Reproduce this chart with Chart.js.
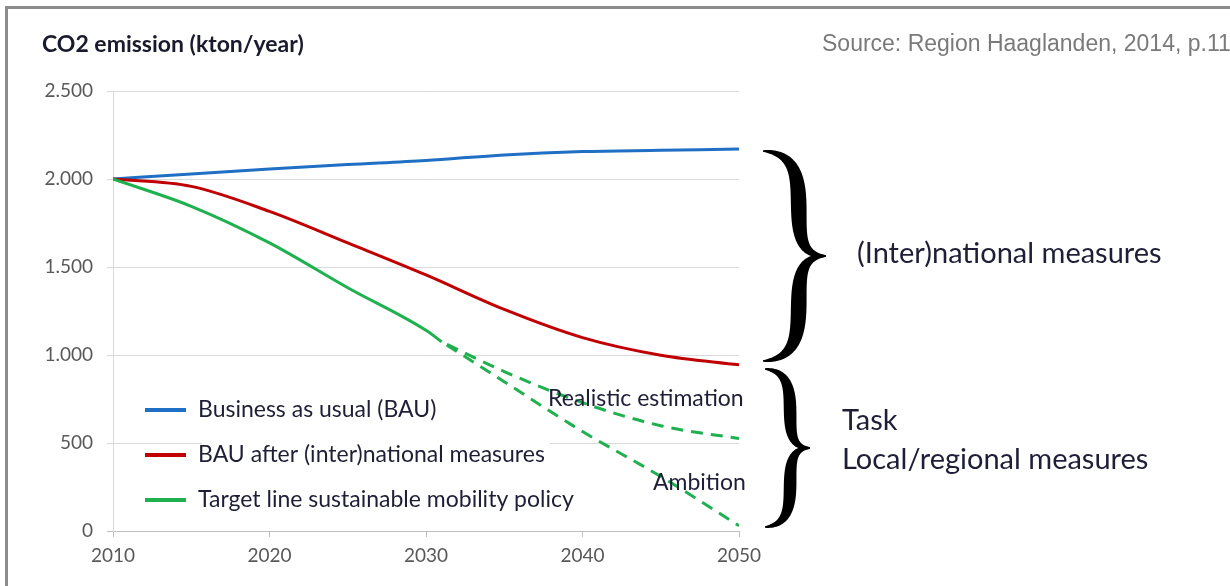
<!DOCTYPE html>
<html>
<head>
<meta charset="utf-8">
<script src="https://cdn.jsdelivr.net/npm/chart.js@4.4.1/dist/chart.umd.min.js"></script>
<style>
  html, body { margin: 0; padding: 0; background: #ffffff; }
  canvas { display: block; }
</style>
</head>
<body>
<canvas id="chart" width="1230" height="586"></canvas>
<script>
// Emission series (kton CO2 per year)
const years = [2010, 2015, 2020, 2025, 2030, 2035, 2040, 2045, 2050];
const businessAsUsual = [2000, 2028, 2057, 2082, 2105, 2137, 2156, 2163, 2170];
const bauAfterMeasures = [2000, 1958, 1816, 1637, 1455, 1259, 1099, 999, 944];

const targetYears = [2010, 2015, 2020, 2025, 2030, 2031];
const targetLine = [2000, 1845, 1637, 1382, 1140, 1075];

const scenarioYears = [2031, 2035, 2040, 2045, 2050];
const realisticEstimation = [1075, 906, 729, 598, 525];
const ambition = [1075, 848, 565, 310, 30];

const xTickValues = [2010, 2020, 2030, 2040, 2050];
const yTickValues = [0, 500, 1000, 1500, 2000, 2500];

const legendLabels = [
  'Business as usual (BAU)',
  'BAU after (inter)national measures',
  'Target line sustainable mobility policy'
];

const BLUE = '#1f6fc4';
const RED = '#c00000';
const GREEN = '#1fb04f';
const TEXT = '#1e1e38';
const SANS = 'Lato, "Open Sans", sans-serif';

const pts = (xs, ys) => xs.map((x, i) => ({ x: x, y: ys[i] }));

function thousands(v) {
  if (v < 1000) return String(v);
  const rest = String(v % 1000).padStart(3, '0');
  return Math.floor(v / 1000) + '.' + rest;
}

// Calligraphic curly brace: two S-shaped halves with a tapering stroke
function drawBrace(ctx, xl, top, bot, xTip, xBody, maxW) {
  const mid = (top + bot) / 2;
  const halves = [
    [[xl, top], [xBody + (xBody - xl) * 0.95, top + 4], [xBody - (xTip - xBody) * 0.9, mid], [xTip, mid]],
    [[xTip, mid], [xBody - (xTip - xBody) * 0.9, mid], [xBody + (xBody - xl) * 0.95, bot - 4], [xl, bot]]
  ];
  const bez = (p, t) => {
    const u = 1 - t;
    return [
      u*u*u*p[0][0] + 3*u*u*t*p[1][0] + 3*u*t*t*p[2][0] + t*t*t*p[3][0],
      u*u*u*p[0][1] + 3*u*u*t*p[1][1] + 3*u*t*t*p[2][1] + t*t*t*p[3][1]
    ];
  };
  ctx.save();
  ctx.fillStyle = '#000000';
  halves.forEach(p => {
    const n = 80, left = [], right = [];
    for (let i = 0; i <= n; i++) {
      const t = i / n;
      const a = bez(p, Math.max(0, t - 0.005));
      const b = bez(p, Math.min(1, t + 0.005));
      let dx = b[0] - a[0], dy = b[1] - a[1];
      const len = Math.hypot(dx, dy) || 1;
      dx /= len; dy /= len;
      const w = 0.8 + maxW * Math.pow(Math.sin(Math.PI * t), 0.9) / 2;
      const c = bez(p, t);
      left.push([c[0] - dy * w, c[1] + dx * w]);
      right.push([c[0] + dy * w, c[1] - dx * w]);
    }
    ctx.beginPath();
    ctx.moveTo(left[0][0], left[0][1]);
    left.forEach(q => ctx.lineTo(q[0], q[1]));
    for (let i = right.length - 1; i >= 0; i--) ctx.lineTo(right[i][0], right[i][1]);
    ctx.closePath();
    ctx.fill();
  });
  ctx.restore();
}

const decorations = {
  id: 'decorations',
  beforeDatasetsDraw(chart) {
    // white backing of the legend block
    const ctx = chart.ctx;
    ctx.save();
    ctx.fillStyle = '#ffffff';
    ctx.fillRect(202, 428, 348, 95);
    ctx.restore();
  },
  afterDraw(chart) {
    const ctx = chart.ctx;
    ctx.save();

    // frame
    ctx.strokeStyle = '#8c8c8c';
    ctx.lineWidth = 3;
    ctx.beginPath();
    ctx.moveTo(6.5, 590);
    ctx.lineTo(6.5, 7.5);
    ctx.lineTo(1235, 7.5);
    ctx.stroke();

    // axis title
    ctx.fillStyle = '#1a1a2e';
    ctx.font = 'bold 23px ' + SANS;
    ctx.textBaseline = 'middle';
    ctx.textAlign = 'left';
    ctx.fillText('CO2 emission (kton/year)', 42, 45);

    // source
    ctx.fillStyle = '#7a7a7a';
    ctx.font = '23px "Liberation Sans Narrow", "Liberation Sans", Arial, sans-serif';
    ctx.fillText('Source: Region Haaglanden, 2014, p.11', 822, 45);

    // legend
    const colors = [BLUE, RED, GREEN];
    const rows = [410, 455, 500];
    ctx.font = '23px ' + SANS;
    legendLabels.forEach((label, i) => {
      ctx.strokeStyle = colors[i];
      ctx.lineWidth = 4;
      ctx.beginPath();
      ctx.moveTo(145, rows[i]);
      ctx.lineTo(186, rows[i]);
      ctx.stroke();
      ctx.fillStyle = TEXT;
      ctx.fillText(label, 198, rows[i]);
    });

    // scenario labels
    ctx.fillText('Realistic estimation', 548, 399);
    ctx.fillText('Ambition', 653, 483);

    // braces and their labels
    drawBrace(ctx, 763, 151, 361, 826, 797, 14);
    drawBrace(ctx, 765, 369, 527, 810, 789, 11);

    ctx.fillStyle = TEXT;
    ctx.font = '29px ' + SANS;
    ctx.fillText('(Inter)national measures', 857, 254);
    ctx.fillText('Task', 842, 421);
    ctx.fillText('Local/regional measures', 842, 460);

    ctx.restore();
  }
};

const lineStyle = {
  borderWidth: 3,
  pointRadius: 0,
  fill: false,
  cubicInterpolationMode: 'monotone'
};

new Chart(document.getElementById('chart'), {
  type: 'line',
  data: {
    datasets: [
      Object.assign({ label: 'Realistic estimation', data: pts(scenarioYears, realisticEstimation),
        borderColor: GREEN, borderDash: [12, 8], borderDashOffset: -6 }, lineStyle),
      Object.assign({ label: 'Ambition', data: pts(scenarioYears, ambition),
        borderColor: GREEN, borderDash: [12, 8], borderDashOffset: -6 }, lineStyle),
      Object.assign({ label: legendLabels[2], data: pts(targetYears, targetLine), borderColor: GREEN }, lineStyle),
      Object.assign({ label: legendLabels[1], data: pts(years, bauAfterMeasures), borderColor: RED }, lineStyle),
      Object.assign({ label: legendLabels[0], data: pts(years, businessAsUsual), borderColor: BLUE }, lineStyle)
    ]
  },
  options: {
    responsive: false,
    animation: false,
    layout: { padding: { top: 91, right: 491, bottom: 0, left: 0 } },
    plugins: {
      legend: { display: false },
      tooltip: { enabled: false },
      title: { display: false }
    },
    scales: {
      x: {
        type: 'linear',
        min: 2010,
        max: 2050,
        afterBuildTicks(scale) { scale.ticks = xTickValues.map(v => ({ value: v })); },
        afterFit(scale) { scale.height = 55; },
        ticks: {
          callback: v => String(v),
          color: '#595959',
          font: { family: SANS, size: 19 },
          padding: 7,
          maxRotation: 0
        },
        grid: { drawOnChartArea: false, drawTicks: true, tickLength: 6, color: '#bfbfbf' },
        border: { color: '#bfbfbf' }
      },
      y: {
        min: 0,
        max: 2500,
        afterBuildTicks(scale) { scale.ticks = yTickValues.map(v => ({ value: v })); },
        afterFit(scale) { scale.width = 113; },
        ticks: {
          callback: v => thousands(v),
          color: '#595959',
          font: { family: SANS, size: 19 },
          padding: 14
        },
        grid: {
          color: ctx => (ctx.tick && ctx.tick.value === 0 ? '#bfbfbf' : '#d9d9d9'),
          tickLength: 6
        },
        border: { color: '#d9d9d9' }
      }
    }
  },
  plugins: [decorations]
});
</script>
</body>
</html>
